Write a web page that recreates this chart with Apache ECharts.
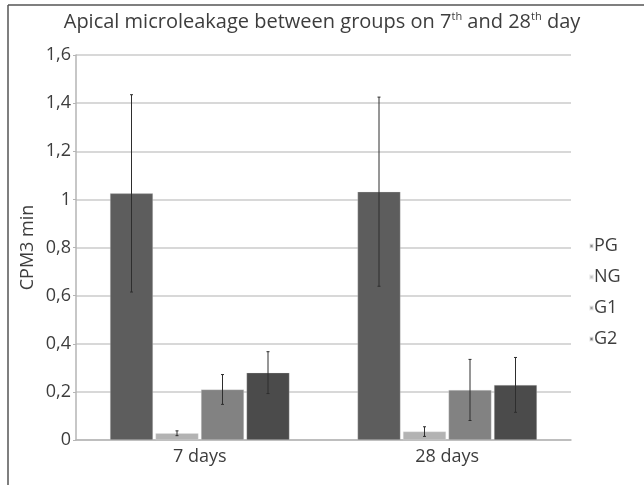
<!DOCTYPE html>
<html>
<head>
<meta charset="utf-8">
<script src="https://cdn.jsdelivr.net/npm/echarts@6/dist/echarts.min.js"></script>
<style>html,body{margin:0;padding:0;background:#fff}#c{width:644px;height:485px}</style>
</head>
<body>
<div id="c"></div>
<script>
const categories = ['7 days', '28 days'];
const groups = ['PG', 'NG', 'G1', 'G2'];
const PG = [1.025, 1.032];
const NG = [0.028, 0.035];
const G1 = [0.21, 0.208];
const G2 = [0.28, 0.229];
const PG_err = [0.41, 0.393];
const NG_err = [0.01, 0.02];
const G1_err = [0.062, 0.127];
const G2_err = [0.087, 0.114];
const yTicks = [0, 0.2, 0.4, 0.6, 0.8, 1, 1.2, 1.4, 1.6];

const values = [PG, NG, G1, G2];
const errs = [PG_err, NG_err, G1_err, G2_err];
const colors = ['#5d5d5d', '#b3b3b3', '#828282', '#4b4b4b'];
const FONT = 'Open Sans';
const TXT = '#3d3d3d';
const BW = 43, GAP = 2.5;

const chart = echarts.init(document.getElementById('c'), null, {renderer: 'canvas'});

const series = [];
groups.forEach((g, i) => {
  series.push({
    name: g, type: 'bar', data: values[i], barWidth: BW, barGap: (GAP / BW * 100) + '%',
    itemStyle: {color: colors[i], borderColor: 'rgba(230,230,230,0.6)', borderWidth: 0.5},
    z: 2
  });
});
groups.forEach((g, i) => {
  series.push({
    type: 'custom', name: g + ' err',
    data: categories.map((c, k) => [k, values[i][k] - errs[i][k], values[i][k] + errs[i][k]]),
    encode: {x: 0, y: [1, 2]},
    z: 5, silent: true,
    renderItem: function (params, api) {
      const off = (i - 1.5) * (BW + GAP);
      const lo = api.coord([api.value(0), api.value(1)]);
      const hi = api.coord([api.value(0), api.value(2)]);
      const x = lo[0] + off;
      const cap = 1.5;
      const st = {stroke: '#2e2e2e', lineWidth: 1};
      return {type: 'group', children: [
        {type: 'line', shape: {x1: x, y1: lo[1], x2: x, y2: hi[1]}, style: st},
        {type: 'line', shape: {x1: x - cap, y1: lo[1], x2: x + cap, y2: lo[1]}, style: st},
        {type: 'line', shape: {x1: x - cap, y1: hi[1], x2: x + cap, y2: hi[1]}, style: st}
      ]};
    }
  });
});

chart.setOption({
  animation: false,
  backgroundColor: '#fff',
  title: {
    text: '{a|Apical microleakage between groups on 7}{s|th}{a| and 28}{s|th}{a| day}',
    left: 'center', top: 4,
    textStyle: {
      fontWeight: 'normal',
      rich: {
        a: {fontFamily: FONT, fontSize: 20, fontWeight: 'normal', color: TXT, lineHeight: 27},
        s: {fontFamily: FONT, fontSize: 11, fontWeight: 'normal', color: TXT, lineHeight: 27, padding: [0, 0, 11, 0]}
      }
    }
  },
  legend: {
    orient: 'vertical', left: 584, top: 232,
    data: groups,
    icon: 'rect', itemWidth: 3, itemHeight: 3, itemGap: 13,
    inactiveColor: TXT,
    textStyle: {fontFamily: FONT, fontSize: 18, color: TXT, padding: [0, 0, 0, -4]}
  },
  grid: {left: 76, right: 73, top: 55, bottom: 45, containLabel: false},
  xAxis: {
    type: 'category', data: categories,
    axisLine: {lineStyle: {color: '#b5b5b5', width: 1.5}},
    axisTick: {show: false},
    axisLabel: {fontFamily: FONT, fontSize: 18, color: TXT, margin: 8}
  },
  yAxis: {
    type: 'value', min: 0, max: 1.6, interval: 0.2,
    name: 'CPM3 min', nameLocation: 'middle', nameGap: 39, nameMoveOverlap: false,
    nameTextStyle: {fontFamily: FONT, fontSize: 18, color: TXT},
    axisLine: {show: true, lineStyle: {color: '#b5b5b5', width: 1.5}},
    axisTick: {show: true, length: 3, lineStyle: {color: '#b5b5b5'}},
    splitLine: {lineStyle: {color: '#cbcbcb', width: 1.5}},
    axisLabel: {
      fontFamily: FONT, fontSize: 18, color: TXT, margin: 5,
      formatter: v => {
        const t = yTicks.find(x => Math.abs(x - v) < 1e-9);
        return String(t !== undefined ? t : v).replace('.', ',');
      }
    }
  },
  graphic: [
    {type: 'line', shape: {x1: 8, y1: 5, x2: 644, y2: 5}, style: {stroke: '#555', lineWidth: 1.5}},
    {type: 'line', shape: {x1: 8, y1: 5, x2: 8, y2: 485}, style: {stroke: '#555', lineWidth: 1.5}}
  ],
  series: series
});
</script>
</body>
</html>
